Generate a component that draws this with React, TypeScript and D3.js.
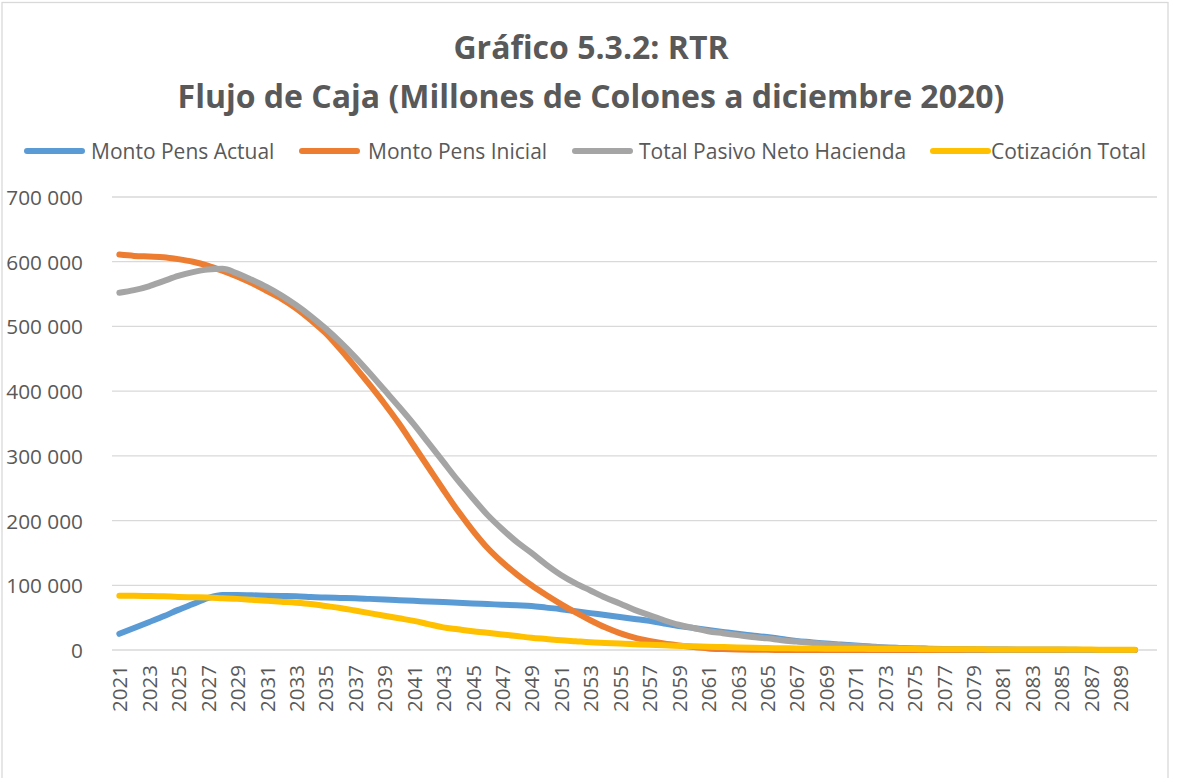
import * as d3 from 'd3'

const W = 1180
const H = 778
const MARGIN = { top: 197, left: 112, right: 23, bottom: 128 }

const years = d3.range(2021, 2091)

const montoActual = [
  25000, 34000, 43000, 52000, 62000, 71000, 80000, 85000, 85000, 84500,
  84000, 83500, 83000, 82000, 81000, 80500, 80000, 79000, 78000, 77000,
  76000, 75000, 74000, 73000, 72000, 71000, 70000, 69000, 68000, 65500,
  63000, 60000, 57000, 54000, 51000, 48000, 45000, 41000, 37000, 34000,
  31000, 28000, 25000, 22500, 20000, 17000, 14000, 12000, 10000, 8500,
  7000, 5500, 4000, 3200, 2500, 2000, 1500, 1200, 1000, 800,
  650, 500, 400, 300, 250, 200, 150, 100, 80, 50,
]

const montoInicial = [
  611000, 609000, 608000, 607000, 604000, 600000, 594000, 586000, 577000, 567000,
  555000, 543000, 528000, 510000, 490000, 465000, 438000, 410000, 381000, 350000,
  316000, 282000, 248000, 215000, 185000, 158000, 136000, 117000, 100000, 85000,
  71000, 58000, 46000, 35000, 26000, 19000, 14000, 10000, 7000, 4500,
  2500, 1500, 800, 400, 200, 100, 50, 30, 20, 10,
  0, 0, 0, 0, 0, 0, 0, 0, 0, 0,
  0, 0, 0, 0, 0, 0, 0, 0, 0, 0,
]

const totalPasivo = [
  552000, 556000, 562000, 570000, 578000, 584000, 588000, 589000, 582000, 572000,
  561000, 548000, 533000, 516000, 497000, 476000, 453000, 428000, 402000, 376000,
  349000, 320000, 291000, 262000, 235000, 209000, 187000, 167000, 150000, 132000,
  116000, 103000, 92000, 81000, 72000, 62000, 54000, 46000, 39000, 34000,
  29000, 26000, 23000, 20000, 18000, 15000, 13000, 11000, 9000, 7500,
  6000, 5000, 4000, 3000, 2200, 1700, 1300, 1000, 800, 600,
  500, 400, 300, 250, 200, 150, 100, 80, 50, 30,
]

const cotizacion = [
  84000, 83800, 83500, 83000, 82000, 81500, 81000, 80000, 79000, 77500,
  76000, 74500, 73000, 71000, 68000, 65000, 61000, 57000, 53000, 49000,
  45000, 40000, 35000, 32000, 29000, 26500, 24000, 21500, 19000, 17000,
  15000, 13500, 12000, 11000, 10000, 9000, 8000, 7200, 6500, 5800,
  5000, 4500, 4000, 3500, 3000, 2800, 2500, 2300, 2000, 1900,
  1800, 1700, 1600, 1500, 1400, 1300, 1200, 1100, 1000, 950,
  900, 850, 800, 750, 700, 650, 600, 550, 500, 500,
]

const seriesNames = ['Monto Pens Actual', 'Monto Pens Inicial', 'Total Pasivo Neto Hacienda', 'Cotización Total']
const seriesColors = ['#5B9BD5', '#ED7D31', '#A5A5A5', '#FFC000']
const seriesValues = [montoActual, montoInicial, totalPasivo, cotizacion]

const yTicks = d3.range(0, 700001, 100000)
const legendX = [27, 302, 575, 933]
const legendTextX = [91, 368, 639, 991]

const FONT = "'Open Sans', 'Noto Sans', sans-serif"
const TEXT = '#595959'

const fmt = d3.formatLocale({ decimal: ',', thousands: ' ', grouping: [3], currency: ['', ''] }).format(',d')

export default function App() {
  const iW = W - MARGIN.left - MARGIN.right
  const iH = H - MARGIN.top - MARGIN.bottom

  // 71 slots: Excel leaves an empty category after the last year
  const x = d3.scaleLinear().domain([0, years.length + 1]).range([MARGIN.left, MARGIN.left + iW])
  const y = d3.scaleLinear().domain([0, 700000]).range([MARGIN.top + iH, MARGIN.top])

  const line = d3.line<number>()
    .x((_, i) => x(i + 0.5))
    .y((v) => y(v))
    .curve(d3.curveMonotoneX)

  return (
    <>
      <style>{'body{margin:0}'}</style>
      <svg width={W} height={H} style={{ display: 'block', fontFamily: FONT }}>
        <rect x={0} y={0} width={W} height={H} fill="#fff" />
        <rect x={2} y={2.5} width={1166} height={H + 10} fill="none" stroke="#D9D9D9" strokeWidth={1.3} />

        <text x={591} y={46} textAnchor="middle" dominantBaseline="central" fontSize={32} fontWeight={700} fill={TEXT}>
          Gráfico 5.3.2: RTR
        </text>
        <text x={591} y={95} textAnchor="middle" dominantBaseline="central" fontSize={32} fontWeight={700} fill={TEXT}>
          Flujo de Caja (Millones de Colones a diciembre 2020)
        </text>

        {seriesNames.map((name, i) => (
          <g key={name}>
            <line x1={legendX[i]} x2={legendX[i] + 55} y1={151} y2={151} stroke={seriesColors[i]} strokeWidth={6} strokeLinecap="round" />
            <text x={legendTextX[i]} y={151} dominantBaseline="central" fontSize={21} fill={TEXT}>{name}</text>
          </g>
        ))}

        {yTicks.map((t) => (
          <g key={t}>
            <line x1={MARGIN.left} x2={MARGIN.left + iW} y1={y(t)} y2={y(t)} stroke="#D9D9D9" strokeWidth={1.3} />
            <text x={83} y={y(t)} textAnchor="end" dominantBaseline="central" fontSize={20.8} fill={TEXT}>{fmt(t)}</text>
          </g>
        ))}

        {years.map((yr, i) => (i % 2 === 0 ? (
          <text key={yr} transform={`translate(${x(i + 0.5)},${y(0) + 15}) rotate(-90)`} textAnchor="end" dominantBaseline="central" fontSize={20.5} fill={TEXT}>
            {yr}
          </text>
        ) : null))}

        {seriesValues.map((vals, i) => (
          <path key={seriesNames[i]} d={line(vals) ?? ''} fill="none" stroke={seriesColors[i]} strokeWidth={6} strokeLinecap="round" strokeLinejoin="round" />
        ))}
      </svg>
    </>
  )
}
